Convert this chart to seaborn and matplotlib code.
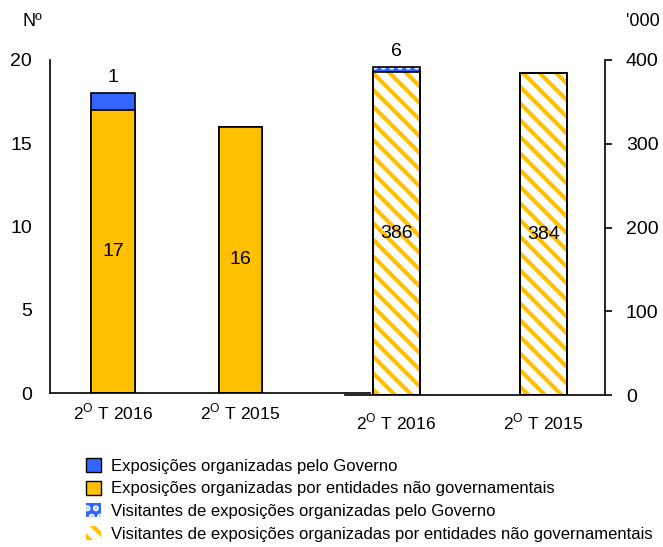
import matplotlib
matplotlib.use("Agg")
import matplotlib.pyplot as plt
from matplotlib.patches import Patch
from matplotlib import font_manager
import seaborn as sns

periods = ["2$^\\mathregular{O}$ T 2016", "2$^\\mathregular{O}$ T 2015"]
expo_gov = [1, 0]
expo_ngov = [17, 16]
vis_gov = [6, 0]
vis_ngov = [386, 384]
legend_labels = [
    "Exposições organizadas pelo Governo",
    "Exposições organizadas por entidades não governamentais",
    "Visitantes de exposições organizadas pelo Governo",
    "Visitantes de exposições organizadas por entidades não governamentais",
]

BLUE = "#3366FF"
ORANGE = "#FFC000"

sns.set_style("white")
names = {f.name for f in font_manager.fontManager.ttflist}
fam = [f for f in ["Liberation Sans Narrow", "Liberation Sans", "DejaVu Sans"] if f in names]
plt.rcParams["font.family"] = fam
plt.rcParams["mathtext.fontset"] = "custom"
plt.rcParams["hatch.linewidth"] = 3.0
plt.rcParams["text.color"] = "black"
plt.rcParams["xtick.color"] = "black"
plt.rcParams["ytick.color"] = "black"
plt.rcParams["xtick.labelcolor"] = "black"
plt.rcParams["ytick.labelcolor"] = "black"
FS_TICK = 14
FS_VAL = 14
FS_X = 12.5
FS_LEG = 12

fig = plt.figure(figsize=(6.63, 5.47), dpi=100)
W, H = 663, 547
ax1 = fig.add_axes([50 / W, 1 - 393 / H, 320 / W, 333 / H])
ax2 = fig.add_axes([345 / W, 1 - 395 / H, 260 / W, 335 / H])

# Left axis: number of exhibitions
tot1 = [a + b for a, b in zip(expo_gov, expo_ngov)]
sns.barplot(x=periods, y=tot1, ax=ax1, color=BLUE, saturation=1, width=0.34,
            edgecolor="black", linewidth=1.2)
sns.barplot(x=periods, y=expo_ngov, ax=ax1, color=ORANGE, saturation=1, width=0.34,
            edgecolor="black", linewidth=1.2)
ax1.set_xlim(-0.496, 2.02)
ax1.set_ylim(0, 20)
ax1.set_yticks([0, 5, 10, 15, 20])
for i, (g, n) in enumerate(zip(expo_gov, expo_ngov)):
    ax1.text(i, n / 2, f"{n}", ha="center", va="center", fontsize=FS_VAL, color="black")
    if g > 0:
        ax1.text(i, n + g + 0.45, f"{g}", ha="center", va="bottom", fontsize=FS_VAL, color="black")

# Right axis: visitors ('000)
tot2 = [a + b for a, b in zip(vis_gov, vis_ngov)]
sns.barplot(x=periods, y=tot2, ax=ax2, color=BLUE, saturation=1, width=0.32,
            edgecolor="white", linewidth=0, hatch="..")
sns.barplot(x=periods, y=vis_ngov, ax=ax2, color="white", saturation=1, width=0.32,
            edgecolor=ORANGE, linewidth=0, hatch="\\\\")
sns.barplot(x=periods, y=tot2, ax=ax2, fill=False, width=0.32,
            edgecolor="black", linewidth=1.2)
sns.barplot(x=periods, y=vis_ngov, ax=ax2, fill=False, width=0.32,
            edgecolor="black", linewidth=1.2)
ax2.set_xlim(-0.347, 1.42)
ax2.set_ylim(0, 400)
ax2.set_yticks([0, 100, 200, 300, 400])
for i, (g, n) in enumerate(zip(vis_gov, vis_ngov)):
    ax2.text(i, n / 2, f"{n}", ha="center", va="center", fontsize=FS_VAL, color="black")
    if g > 0:
        ax2.text(i, n + g + 8, f"{g}", ha="center", va="bottom", fontsize=FS_VAL, color="black")

for ax in (ax1, ax2):
    ax.set_ylabel("")
    ax.set_xlabel("")
    for s in ax.spines.values():
        s.set_color("black")
        s.set_linewidth(1.2)
    ax.spines["top"].set_visible(False)
    ax.tick_params(axis="x", length=0, labelsize=FS_X, pad=6, labelcolor="black")
    ax.tick_params(axis="y", length=5, width=1.2, color="black", labelsize=FS_TICK,
                   direction="out", pad=8, labelcolor="black")
    ax.patch.set_alpha(0)

ax1.spines["right"].set_visible(False)
ax2.spines["left"].set_visible(False)
ax2.yaxis.tick_right()
ax2.tick_params(axis="x", pad=12)
ax2.tick_params(axis="y", left=False, right=True, pad=10)

fig.text(22 / W, 1 - 22 / H, "Nº", ha="left", va="center", fontsize=13, color="black")
fig.text(626 / W, 1 - 22 / H, "'000", ha="left", va="center", fontsize=13, color="black")

handles = [
    Patch(facecolor=BLUE, edgecolor="black", linewidth=1),
    Patch(facecolor=ORANGE, edgecolor="black", linewidth=1),
    Patch(facecolor=BLUE, edgecolor="white", hatch="..", linewidth=0),
    Patch(facecolor="white", edgecolor=ORANGE, hatch="\\\\", linewidth=0),
]
leg = fig.legend(handles, legend_labels, loc="upper left", bbox_to_anchor=(86 / W, 1 - 458 / H),
                 frameon=False, fontsize=FS_LEG, handlelength=0.9, handleheight=0.9,
                 handletextpad=0.6, labelspacing=0.42, borderpad=0, borderaxespad=0)
for t in leg.get_texts():
    t.set_color("black")

fig.savefig("out.png", dpi=100)
